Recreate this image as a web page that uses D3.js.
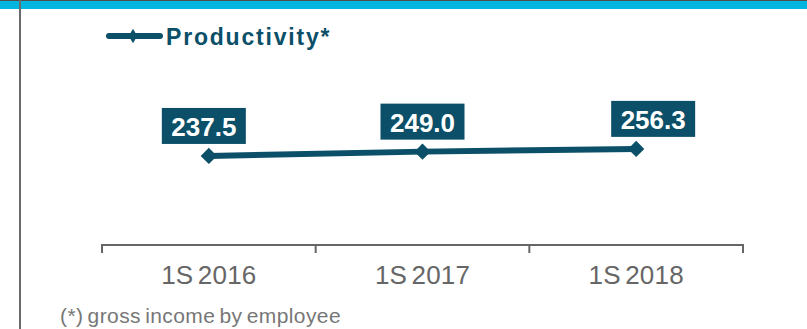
<!DOCTYPE html>
<html>
<head>
<meta charset="utf-8">
<script src="https://cdn.jsdelivr.net/npm/d3@7"></script>
<style>
  body { margin: 0; background: #fff; }
  svg { display: block; font-family: "Liberation Sans", Arial, sans-serif; }
</style>
</head>
<body>
<div id="viewData"></div>
<script>
// data
const periods = ["1S 2016", "1S 2017", "1S 2018"]
const productivity = [237.5, 249.0, 256.3]
const seriesName = "Productivity*"
const footnote = "(*) gross income by employee"
// small sideways nudges of the value boxes, as in the original slide
const labelNudge = [-5, 0, 17]

const width = 807, height = 329
const dark = "#0b4f68"

const svg = d3.select("#viewData")
  .append("svg")
    .attr("width", width)
    .attr("height", height)

// slide frame: top cyan band and left rule
svg.append("rect")
  .attr("x", 0).attr("y", 0)
  .attr("width", width).attr("height", 9)
  .attr("fill", "#00b6de")
svg.append("rect")
  .attr("x", 0).attr("y", 0)
  .attr("width", width).attr("height", 1)
  .attr("fill", "#4d4d4d")
svg.append("rect")
  .attr("x", 19).attr("y", 0)
  .attr("width", 2).attr("height", height)
  .attr("fill", "#6b6b6b")

const x = d3.scaleBand()
  .domain(periods)
  .range([102, 743])

const y = d3.scaleLinear()
  .domain([0, 600])
  .range([245, 20])

// x axis
const xAxis = svg.append("g")
  .attr("transform", "translate(0,245)")
  .call(d3.axisBottom(x).tickSize(0).tickPadding(21))
xAxis.select(".domain").remove()
xAxis.append("path")
  .attr("d", "M102,8V0H743V8")
  .attr("fill", "none")
  .attr("stroke", "#666")
  .attr("stroke-width", 2)
xAxis.selectAll(".bands")
  .data(periods.slice(1))
  .join("line")
    .attr("x1", d => x(d)).attr("x2", d => x(d))
    .attr("y1", 0).attr("y2", 8)
    .attr("stroke", "#666")
    .attr("stroke-width", 2)
xAxis.selectAll(".tick text")
  .attr("font-size", 26)
  .attr("font-family", "Liberation Sans, Arial, sans-serif")
  .attr("fill", "#666")
  .attr("dy", "0.69em")
  .style("word-spacing", "-3px")
  .style("letter-spacing", "0.2px")

const cx = (d, i) => x(periods[i]) + x.bandwidth() / 2

// the line
const line = d3.line()
  .x((d, i) => cx(d, i))
  .y(d => y(d))

svg.append("path")
  .datum(productivity)
  .attr("d", line)
  .attr("fill", "none")
  .attr("stroke", dark)
  .attr("stroke-width", 6)

const diamond = d3.symbol().type(d3.symbolDiamond2).size(170)
svg.selectAll(".pt")
  .data(productivity)
  .join("path")
    .attr("class", "pt")
    .attr("d", diamond)
    .attr("transform", (d, i) => `translate(${cx(d, i)},${y(d)})`)
    .attr("fill", dark)

// value boxes
const boxW = 84, boxH = 36
const labels = svg.selectAll(".lbl")
  .data(productivity)
  .join("g")
    .attr("class", "lbl")
    .attr("transform", (d, i) => `translate(${cx(d, i) + labelNudge[i]},${y(d) - 12 - boxH})`)
labels.append("rect")
  .attr("x", -boxW / 2).attr("y", 0)
  .attr("width", boxW).attr("height", boxH)
  .attr("fill", dark)
labels.append("text")
  .attr("x", 0).attr("y", 28)
  .attr("text-anchor", "middle")
  .attr("font-size", 26)
  .attr("font-weight", "bold")
  .attr("fill", "#fff")
  .text(d => d.toFixed(1))

// legend
const legend = svg.append("g")
legend.append("line")
  .attr("x1", 109).attr("x2", 160)
  .attr("y1", 36).attr("y2", 36)
  .attr("stroke", dark)
  .attr("stroke-width", 6)
  .attr("stroke-linecap", "round")
legend.append("path")
  .attr("d", d3.symbol().type(d3.symbolDiamond).size(60))
  .attr("transform", "translate(133,36)")
  .attr("fill", dark)
legend.append("text")
  .attr("x", 166).attr("y", 45)
  .attr("font-size", 23)
  .attr("font-weight", "bold")
  .attr("fill", dark)
  .style("letter-spacing", "1.8px")
  .text(seriesName)

// footnote
svg.append("text")
  .attr("x", 60).attr("y", 323)
  .attr("font-size", 21)
  .attr("fill", "#777")
  .style("word-spacing", "-2px")
  .style("letter-spacing", "0.4px")
  .text(footnote)
</script>
</body>
</html>
